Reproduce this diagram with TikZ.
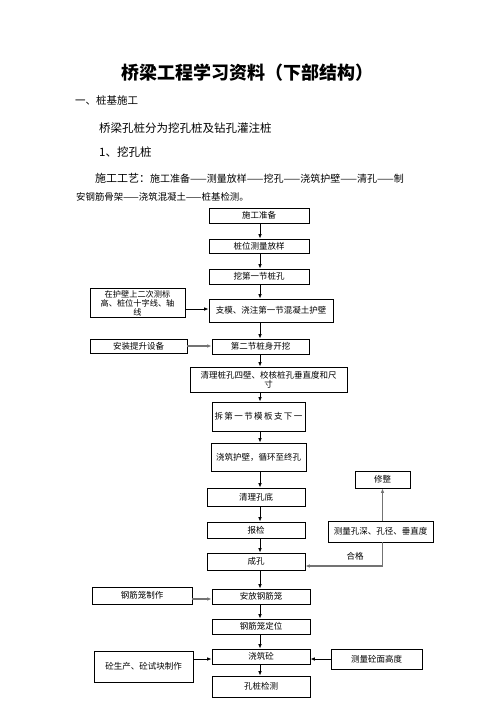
\documentclass[tikz,border=0pt]{standalone}
\usepackage{fontspec}
\setmainfont{Noto Sans CJK SC}
\usetikzlibrary{arrows.meta}
\begin{document}
\begin{tikzpicture}[x=1pt,y=-1pt,
  bx/.style={draw, line width=0.9pt, inner sep=0pt, font=\fontsize{8.5}{9.2}\selectfont, align=center},
  txt/.style={anchor=west, inner sep=0pt},
  arr/.style={-{Latex[length=4.5pt,width=3.6pt]}, line width=0.8pt},
  garr/.style={-{Latex[length=4.5pt,width=3.6pt]}, line width=1.4pt, draw=black!55}]
\useasboundingbox (0,0) rectangle (496,702);
\fill[white] (0,0) rectangle (496,702);
% texts
\node[font=\bfseries\fontsize{18}{18}\selectfont, inner sep=0pt] (title) at (247,73) {桥梁工程学习资料（下部结构）};
\node[txt, font=\fontsize{10.5}{12}\selectfont] (h1) at (75,100) {一、桩基施工};
\node[txt, font=\fontsize{11.5}{12}\selectfont] (p1) at (99,128) {桥梁孔桩分为挖孔桩及钻孔灌注桩};
\node[txt, font=\fontsize{11.5}{12}\selectfont] (h2) at (99,152) {1、挖孔桩};
\node[txt, font=\fontsize{10}{12}\selectfont] (l1) at (95,178) {{\fontsize{11}{12}\selectfont 施工工艺：}施工准备——测量放样——挖孔——浇筑护壁——清孔——制};
\node[txt, font=\fontsize{9.4}{12}\selectfont] (l2) at (76,197) {安钢筋骨架——浇筑混凝土——桩基检测。};
% main column
\coordinate (col) at (260,0);
\node[bx, minimum width=100pt, minimum height=15pt] (n1) at (259,215.5) {施工准备};
\node[bx, minimum width=100pt, minimum height=14pt] (n2) at (259,246) {桩位测量放样};
\node[bx, minimum width=100pt, minimum height=15pt] (n3) at (259,276.5) {挖第一节桩孔};
\node[bx, minimum width=95pt, minimum height=29pt, font=\fontsize{8.2}{8.8}\selectfont] (s1) at (137.5,302.5) {\raisebox{-2pt}[\height][\depth]{\begin{tabular}{@{}c@{}}在护壁上二次测标\\[-0.4pt]高、桩位十字线、轴\\[-0.4pt]线\end{tabular}}};
\node[bx, minimum width=124pt, minimum height=23pt] (n4) at (271,310.5) {支模、浇注第一节混凝土护壁};
\node[bx, minimum width=97pt, minimum height=14pt] (s2) at (138.5,346) {安装提升设备};
\node[bx, minimum width=97pt, minimum height=15pt] (n5) at (260.5,346.5) {第二节桩身开挖};
\node[bx, minimum width=157pt, minimum height=25pt] (n6) at (268.5,379.5) {清理桩孔四壁、校核桩孔垂直度和尺\\寸};
\node[bx, minimum width=93pt, minimum height=29pt] (n7) at (258.5,416.5) {拆\,第\,一\,节\,模\,板\,支\,下\,一};
\node[bx, minimum width=95pt, minimum height=28pt] (n8) at (258.5,457) {浇筑护壁，循环至终孔};
\node[bx, minimum width=55pt, minimum height=17pt] (r1) at (382.5,479.5) {修整};
\node[bx, minimum width=98pt, minimum height=18pt] (n9) at (256,497) {清理孔底};
\node[bx, minimum width=98pt, minimum height=16pt] (n10) at (256,530) {报检};
\node[bx, minimum width=105pt, minimum height=21pt] (r2) at (380.5,531.5) {测量孔深、孔径、垂直度};
\node[bx, minimum width=98pt, minimum height=17pt] (n11) at (256,561.5) {成孔};
\node[bx, minimum width=100pt, minimum height=17pt] (s3) at (142,595.5) {钢筋笼制作};
\node[bx, minimum width=98pt, minimum height=15pt] (n12) at (261,596.5) {安放钢筋笼};
\node[bx, minimum width=98pt, minimum height=15pt] (n13) at (261,626.5) {钢筋笼定位};
\node[bx, minimum width=98pt, minimum height=15pt] (n14) at (261,656.5) {浇筑砼};
\node[bx, minimum width=99pt, minimum height=31pt] (s4) at (143.5,666.5) {砼生产、砼试块制作};
\node[bx, minimum width=91pt, minimum height=20pt] (r3) at (376.5,659) {测量砼面高度};
\node[bx, minimum width=98pt, minimum height=21pt] (n15) at (261,686.5) {孔桩检测};
% vertical arrows
\foreach \a/\b in {n1/n2,n2/n3,n3/n4,n4/n5,n5/n6,n6/n7,n7/n8,n8/n9,n9/n10,n10/n11,n11/n12,n12/n13,n13/n14,n14/n15}
  \draw[arr] (\a.south -| col) -- (\b.north -| col);
% side arrows
\coordinate (y566) at (0,566);
\coordinate (y599) at (0,599);
\coordinate (y659) at (0,659);
\coordinate (y309) at (0,309);
\draw[arr] (s1.east |- y309) -- (n4.west |- y309);
\draw[garr] (s2.east) -- (s2.east -| n5.west);
\draw[garr] (r1.south |- r2.north) -- (r1.south);
\draw[garr] (r1.south |- r2.south) |- (n11.east |- y566);
\node[font=\fontsize{8.5}{10}\selectfont, inner sep=0pt] (ok) at (355,556) {合格};
\draw[garr] (s3.east |- y599) -- (n12.west |- y599);
\draw[arr] (s4.east |- y659) -- (n14.west |- y659);
\draw[arr] (r3.west |- y659) -- (n14.east |- y659);
\end{tikzpicture}
\end{document}
